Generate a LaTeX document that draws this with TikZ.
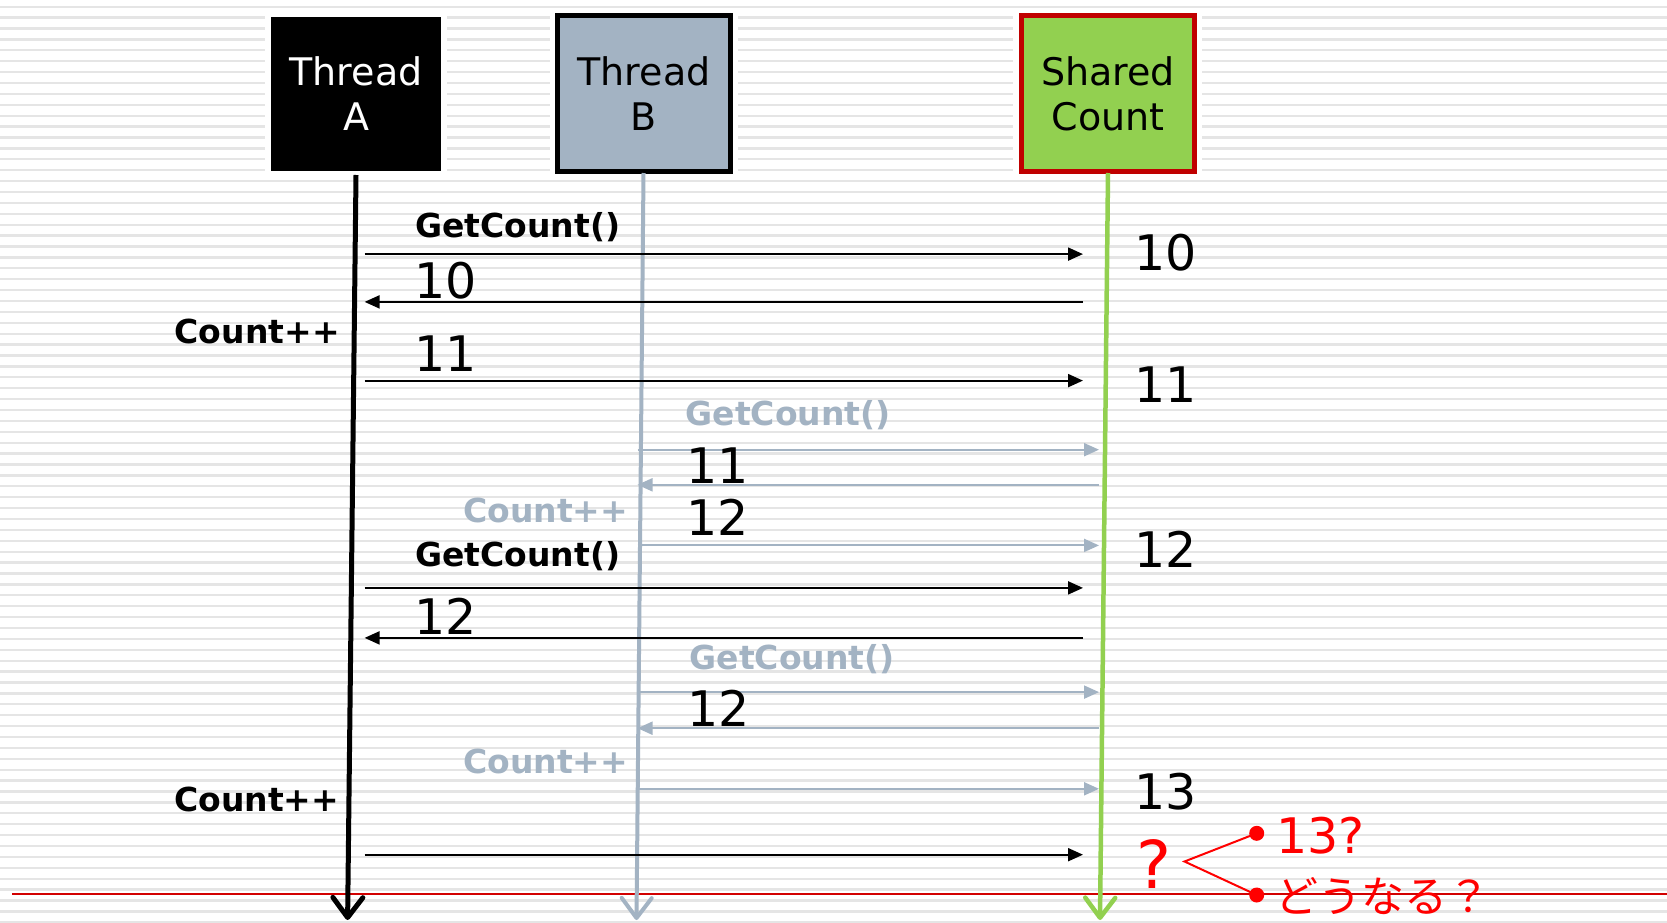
\documentclass[tikz,border=0pt]{standalone}
\usepackage{fontspec}
\setmainfont{DejaVu Sans}
\newfontfamily\jpfont{Noto Sans CJK JP}
\usetikzlibrary{arrows.meta}
\definecolor{stripecol}{RGB}{229,229,229}
\definecolor{tbgray}{RGB}{163,179,195}
\definecolor{sgreen}{RGB}{146,208,80}
\definecolor{sred}{RGB}{192,0,0}
\definecolor{redline}{RGB}{210,0,0}
\definecolor{qred}{RGB}{255,0,0}
\begin{document}
\begin{tikzpicture}[x=1pt,y=-1pt,
  stripe/.style={draw=stripecol,line width=2.3pt},
  halo/.style={fill=white,draw=none},
  boxtext/.style={font=\fontsize{38}{45}\selectfont,align=center,inner sep=0pt},
  boxA/.style={boxtext,fill=black,text=white,minimum width=170pt,minimum height=154pt},
  boxB/.style={boxtext,fill=tbgray,draw=black,line width=5pt,minimum width=173pt,minimum height=156pt},
  boxS/.style={boxtext,fill=sgreen,draw=sred,line width=5pt,minimum width=173pt,minimum height=156pt},
  life/.style={line width=#1,-{Straight Barb[length=20pt,width=30pt,round]}},
  msgA/.style={draw=black,line width=2pt,-{Triangle[length=15pt,width=13pt]}},
  msgB/.style={draw=tbgray,line width=2pt,-{Triangle[length=15pt,width=13pt]}},
  lbl/.style={inner sep=0pt,anchor=base west,font=\bfseries\fontsize{33}{33}\selectfont},
  num/.style={inner sep=0pt,anchor=base west,font=\fontsize{49}{49}\selectfont},
  dot/.style={circle,fill=qred,inner sep=0pt,minimum size=15pt},
]
\useasboundingbox (0,0) rectangle (1667,923);
\fill[white] (0,0) rectangle (1667,923);
% background stripes
\foreach \i in {0,...,84} \draw[stripe] (0,{6.7+10.9*\i}) -- (1667,{6.7+10.9*\i});
% halos behind boxes
\fill[halo] (265,10) rectangle (447,177);
\fill[halo] (550,8) rectangle (738,179);
\fill[halo] (1013,8) rectangle (1202,179);
% boxes
\node[boxA] (A) at (356,94) {Thread\\A};
\node[boxB] (B) at (644,93.5) {Thread\\B};
\node[boxS] (S) at (1108,93.5) {Shared\\Count};
% red horizontal line
\coordinate (rl) at (12,894);
\coordinate (rr) at (1667,894);
\draw[redline,line width=2.2pt] (rl) -- (rr);
% lifelines
\coordinate (Atop) at (356,175);
\coordinate (Abot) at (347.6,920);
\coordinate (Btop) at (643.5,173);
\coordinate (Bbot) at (636.5,920);
\coordinate (Stop) at (1108,173);
\coordinate (Sbot) at (1100,920);
\draw[life=5pt,black] (Atop) -- (Abot);
\draw[life=4pt,tbgray] (Btop) -- (Bbot);
\draw[life=4.5pt,sgreen] (Stop) -- (Sbot);
% message end points
\foreach \n/\y in {1/254.1,2/301.9,3/380.6,4/587.9,5/637.9,6/854.7}{
  \coordinate (a\n) at (364.6,\y);
  \coordinate (s\n) at (1083,\y);
}
\foreach \n/\y in {1/449.7,2/484.8,3/545.4,4/692.1,5/728.2,6/788.8}{
  \coordinate (b\n) at (637.5,\y);
  \coordinate (t\n) at (1099,\y);
}
% thread A messages
\draw[msgA] (a1) -- (s1);
\draw[msgA] (s2) -- (a2);
\draw[msgA] (a3) -- (s3);
\draw[msgA] (a4) -- (s4);
\draw[msgA] (s5) -- (a5);
\draw[msgA] (a6) -- (s6);
% thread B messages
\draw[msgB] (b1) -- (t1);
\draw[msgB] (t2) -- (b2);
\draw[msgB] (b3) -- (t3);
\draw[msgB] (b4) -- (t4);
\draw[msgB] (t5) -- (b5);
\draw[msgB] (b6) -- (t6);
% black labels
\node[lbl] (gcA1) at (415,237) {GetCount()};
\node[num] (nA10) at (414,298.2) {10};
\node[lbl] (cpA1) at (174.5,343.4) {Count++};
\node[num] (nA11) at (414,371.5) {11};
\node[lbl] (gcA2) at (415,566.5) {GetCount()};
\node[num] (nA12) at (414,634.1) {12};
\node[lbl] (cpA2) at (174,811.1) {Count++};
% gray labels
\node[lbl,text=tbgray] (gcB1) at (685.5,425.5) {GetCount()};
\node[num] (nB11) at (686,483.1) {11};
\node[lbl,text=tbgray] (cpB1) at (463,522.5) {Count++};
\node[num] (nB12) at (686.5,535.2) {12};
\node[lbl,text=tbgray] (gcB2) at (689.5,669.7) {GetCount()};
\node[num] (nB12b) at (687.5,726.5) {12};
\node[lbl,text=tbgray] (cpB2) at (463,773.9) {Count++};
% shared values
\node[num] (v10) at (1134.6,270.5) {10};
\node[num] (v11) at (1134.6,402.3) {11};
\node[num] (v12) at (1134.6,567.1) {12};
\node[num] (v13) at (1134.6,809.5) {13};
% question
\node[text=qred,inner sep=0pt,font=\fontsize{66}{66}\selectfont] (q) at (1154,864) {?};
\coordinate (v) at (1184.5,861.5);
\node[dot] (d1) at (1256.7,833.3) {};
\node[dot] (d2) at (1256.7,895) {};
\draw[qred,line width=2pt] (d1.center) -- (v) -- (d2.center);
\node[num,text=qred] (t13) at (1276,853) {13?};
\node[text=qred,inner sep=0pt,anchor=west,font=\jpfont\fontsize{43}{43}\selectfont] (how) at (1275,896) {どうなる？};
\end{tikzpicture}
\end{document}
